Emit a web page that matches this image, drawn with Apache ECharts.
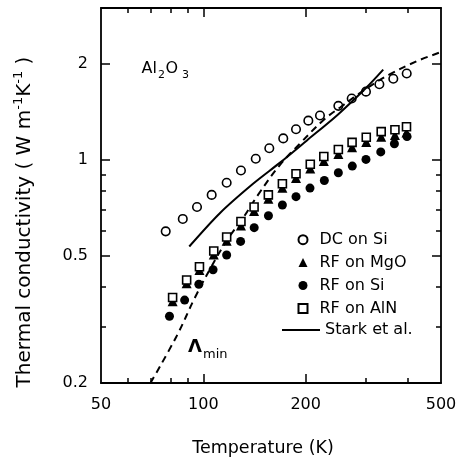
<!DOCTYPE html>
<html>
<head>
<meta charset="utf-8">
<script src="https://cdn.jsdelivr.net/npm/echarts@6/dist/echarts.min.js"></script>
<style>
  html, body { margin: 0; padding: 0; background: #fff; }
  #chart { width: 457px; height: 462px; }
</style>
</head>
<body>
<div id="chart"></div>
<script>
// Thermal conductivity of Al2O3 films versus temperature (log-log)

// DC sputtered on Si (open circles)
const dcSiTemp = [77.5, 87, 95.8, 105.8, 117.1, 129, 142.6, 156.3, 171.8, 187.3, 203.6, 220.3, 249.5, 273.1, 300.8, 329.4, 362, 396.4];
const dcSiK    = [0.598, 0.654, 0.713, 0.778, 0.849, 0.928, 1.01, 1.09, 1.17, 1.25, 1.33, 1.38, 1.48, 1.56, 1.64, 1.73, 1.80, 1.87];

// RF sputtered on MgO (filled triangles)
const rfMgoTemp = [81.2, 89.3, 97.4, 107.3, 117.1, 129, 141, 155.3, 170.8, 187.3, 206.3, 226.1, 249.5, 273.8, 301.4, 333.5, 366, 395.8];
const rfMgoK    = [0.361, 0.411, 0.452, 0.506, 0.559, 0.624, 0.693, 0.756, 0.819, 0.879, 0.942, 0.994, 1.045, 1.098, 1.139, 1.184, 1.199, 1.22];

// RF sputtered on Si (filled circles)
const rfSiTemp = [79.5, 88.1, 97.0, 106.8, 117.1, 128.7, 141.1, 155.4, 170.8, 187.3, 205.9, 226.9, 249.5, 274.2, 300.8, 332.5, 364.7, 397.2];
const rfSiK    = [0.324, 0.364, 0.408, 0.453, 0.504, 0.556, 0.614, 0.669, 0.723, 0.768, 0.817, 0.863, 0.913, 0.958, 1.005, 1.061, 1.126, 1.186];

// RF sputtered on AlN (open squares)
const rfAlnTemp = [81.2, 89.3, 97.4, 107.3, 117.1, 129, 141, 155.3, 170.8, 187.3, 206.3, 226.1, 249.5, 273.8, 301.4, 333.5, 366, 395.8];
const rfAlnK    = [0.371, 0.421, 0.463, 0.519, 0.574, 0.642, 0.713, 0.778, 0.843, 0.906, 0.971, 1.027, 1.080, 1.137, 1.18, 1.229, 1.245, 1.272];

// Stark et al. (solid curve)
const starkTemp = [90.9, 112.0, 140.0, 168.1, 201.3, 249.0, 302.3, 338.1];
const starkK    = [0.536, 0.683, 0.843, 0.982, 1.151, 1.391, 1.692, 1.922];

// Minimum thermal conductivity model (dashed curve)
const lambdaMinTemp = [69.9, 83.5, 94.5, 105.3, 117.4, 130.8, 144.8, 168.1, 192.4, 224.9, 252.4, 302.9, 354.0, 425.1, 500];
const lambdaMinK    = [0.2, 0.281, 0.371, 0.461, 0.561, 0.658, 0.778, 0.967, 1.127, 1.332, 1.463, 1.680, 1.860, 2.044, 2.182];

// Axis ticks and labels
const xLabels     = [50, 100, 200, 500];
const xMajorTicks = [100, 200];
const xMinorTicks = [60, 70, 80, 90, 300, 400];
const yLabels     = [0.2, 0.5, 1, 2];
const yMajorTicks = [0.5, 1, 2];
const yMinorTicks = [0.3, 0.4, 0.6, 0.7, 0.8, 0.9];

const FONT = 'DejaVu Sans';
const zip = (xs, ys) => xs.map((x, i) => [x, ys[i]]);
const fmt = v => String(+(+v).toFixed(2));

const X_MIN = 50, X_MAX = 500, Y_MIN = 0.2, Y_MAX = 3;

function xAxisDef(position, ticks, len, withLine, withLabel) {
  return {
    type: 'log', logBase: 10, min: X_MIN, max: X_MAX, position: position,
    axisLine: { show: withLine, lineStyle: { color: '#000', width: 1.8 } },
    axisTick: { show: true, inside: true, length: len, customValues: ticks,
                lineStyle: { color: '#000', width: 1.5 } },
    axisLabel: withLabel ? {
      show: true, customValues: xLabels, margin: 14, formatter: fmt,
      color: '#000', fontFamily: FONT, fontSize: 16,
      showMinLabel: true, showMaxLabel: true
    } : { show: false },
    splitLine: { show: false }, minorTick: { show: false }
  };
}
function yAxisDef(position, ticks, len, withLine, withLabel) {
  return {
    type: 'log', logBase: 10, min: Y_MIN, max: Y_MAX, position: position,
    axisLine: { show: withLine, lineStyle: { color: '#000', width: 1.8 } },
    axisTick: { show: true, inside: true, length: len, customValues: ticks,
                lineStyle: { color: '#000', width: 1.5 } },
    axisLabel: withLabel ? {
      show: true, customValues: yLabels, margin: 13, formatter: fmt,
      color: '#000', fontFamily: FONT, fontSize: 16,
      showMinLabel: true, showMaxLabel: true
    } : { show: false },
    splitLine: { show: false }, minorTick: { show: false }
  };
}

const chart = echarts.init(document.getElementById('chart'), null, { renderer: 'canvas' });

const xMain = xAxisDef('bottom', xMajorTicks, 9, true, true);
xMain.name = 'Temperature (K)';
xMain.nameLocation = 'middle';
xMain.nameGap = 56;
xMain.nameTextStyle = { color: '#000', fontFamily: FONT, fontSize: 17.5, padding: [0, 16, 0, 0] };

const legendText = { color: '#000', fontFamily: FONT, fontSize: 16 };

chart.setOption({
  animation: false,
  backgroundColor: '#fff',
  textStyle: { fontFamily: FONT, color: '#000' },
  grid: { left: 101, right: 16, top: 8, bottom: 79, containLabel: false, outerBoundsMode: 'none' },
  xAxis: [
    xMain,
    xAxisDef('bottom', xMinorTicks, 5, false, false),
    xAxisDef('top', xMajorTicks, 9, true, false),
    xAxisDef('top', xMinorTicks, 5, false, false)
  ],
  yAxis: [
    yAxisDef('left', yMajorTicks, 9, true, true),
    yAxisDef('left', yMinorTicks, 5, false, false),
    yAxisDef('right', yMajorTicks, 9, true, false),
    yAxisDef('right', yMinorTicks, 5, false, false)
  ],
  legend: [
    {
      orient: 'vertical', left: 292.5, top: 226.7,
      itemWidth: 9, itemHeight: 9, itemGap: 6.9,
      selectedMode: false,
      textStyle: Object.assign({ padding: [0, 0, 0, 7] }, legendText),
      data: ['DC on Si', 'RF on MgO', 'RF on Si', 'RF on AlN']
    },
    {
      orient: 'vertical', left: 277, top: 317,
      itemWidth: 38, itemHeight: 2,
      selectedMode: false, icon: 'rect',
      textStyle: legendText,
      data: ['Stark et al.']
    }
  ],
  series: [
    {
      name: 'Stark et al.', type: 'line', data: zip(starkTemp, starkK),
      symbol: 'none', smooth: 0.3, z: 2,
      lineStyle: { color: '#000', width: 2 }, itemStyle: { color: '#000', opacity: 1 }
    },
    {
      name: 'Λmin', type: 'line', data: zip(lambdaMinTemp, lambdaMinK),
      symbol: 'none', smooth: 0.4, z: 2,
      lineStyle: { color: '#000', width: 2, type: [7, 5] }, itemStyle: { color: '#000', opacity: 1 }
    },
    {
      name: 'RF on MgO', type: 'scatter', data: zip(rfMgoTemp, rfMgoK),
      symbol: 'triangle', symbolSize: 10, z: 3,
      itemStyle: { color: '#000', opacity: 1 }
    },
    {
      name: 'RF on AlN', type: 'scatter', data: zip(rfAlnTemp, rfAlnK),
      symbol: 'rect', symbolSize: 8, z: 4,
      itemStyle: { color: '#fff', borderColor: '#000', borderWidth: 1.6, opacity: 1 }
    },
    {
      name: 'RF on Si', type: 'scatter', data: zip(rfSiTemp, rfSiK),
      symbol: 'circle', symbolSize: 9, z: 5,
      itemStyle: { color: '#000', opacity: 1 }
    },
    {
      name: 'DC on Si', type: 'scatter', data: zip(dcSiTemp, dcSiK),
      symbol: 'circle', symbolSize: 8.5, z: 5,
      itemStyle: { color: 'rgba(255,255,255,0)', borderColor: '#000', borderWidth: 1.6, opacity: 1 }
    }
  ],
  graphic: [
    // y-axis title with superscript units
    {
      type: 'text', x: 25, y: 222, rotation: Math.PI / 2,
      style: {
        text: 'Thermal conductivity ( W m{sup|-1}K{sup|-1} )',
        fontFamily: FONT, fontSize: 20, fill: '#000',
        align: 'center', verticalAlign: 'middle',
        rich: { sup: { fontFamily: FONT, fontSize: 13, fill: '#000', padding: [0, 0, 12, 0] } }
      }
    },
    // compound label
    { type: 'text', x: 141.5, y: 68.5, style: { text: 'Al', fontFamily: FONT, fontSize: 16, fill: '#000', verticalAlign: 'middle' } },
    { type: 'text', x: 158, y: 75, style: { text: '2', fontFamily: FONT, fontSize: 11, fill: '#000', verticalAlign: 'middle' } },
    { type: 'text', x: 165.5, y: 68.5, style: { text: 'O', fontFamily: FONT, fontSize: 16, fill: '#000', verticalAlign: 'middle' } },
    { type: 'text', x: 182, y: 75, style: { text: '3', fontFamily: FONT, fontSize: 11, fill: '#000', verticalAlign: 'middle' } },
    // model curve label
    { type: 'text', x: 188, y: 347, style: { text: 'Λ', fontFamily: FONT, fontSize: 18, fontWeight: 'bold', fill: '#000', verticalAlign: 'middle' } },
    { type: 'text', x: 203, y: 355, style: { text: 'min', fontFamily: FONT, fontSize: 13, fill: '#000', verticalAlign: 'middle' } }
  ]
});
</script>
</body>
</html>
